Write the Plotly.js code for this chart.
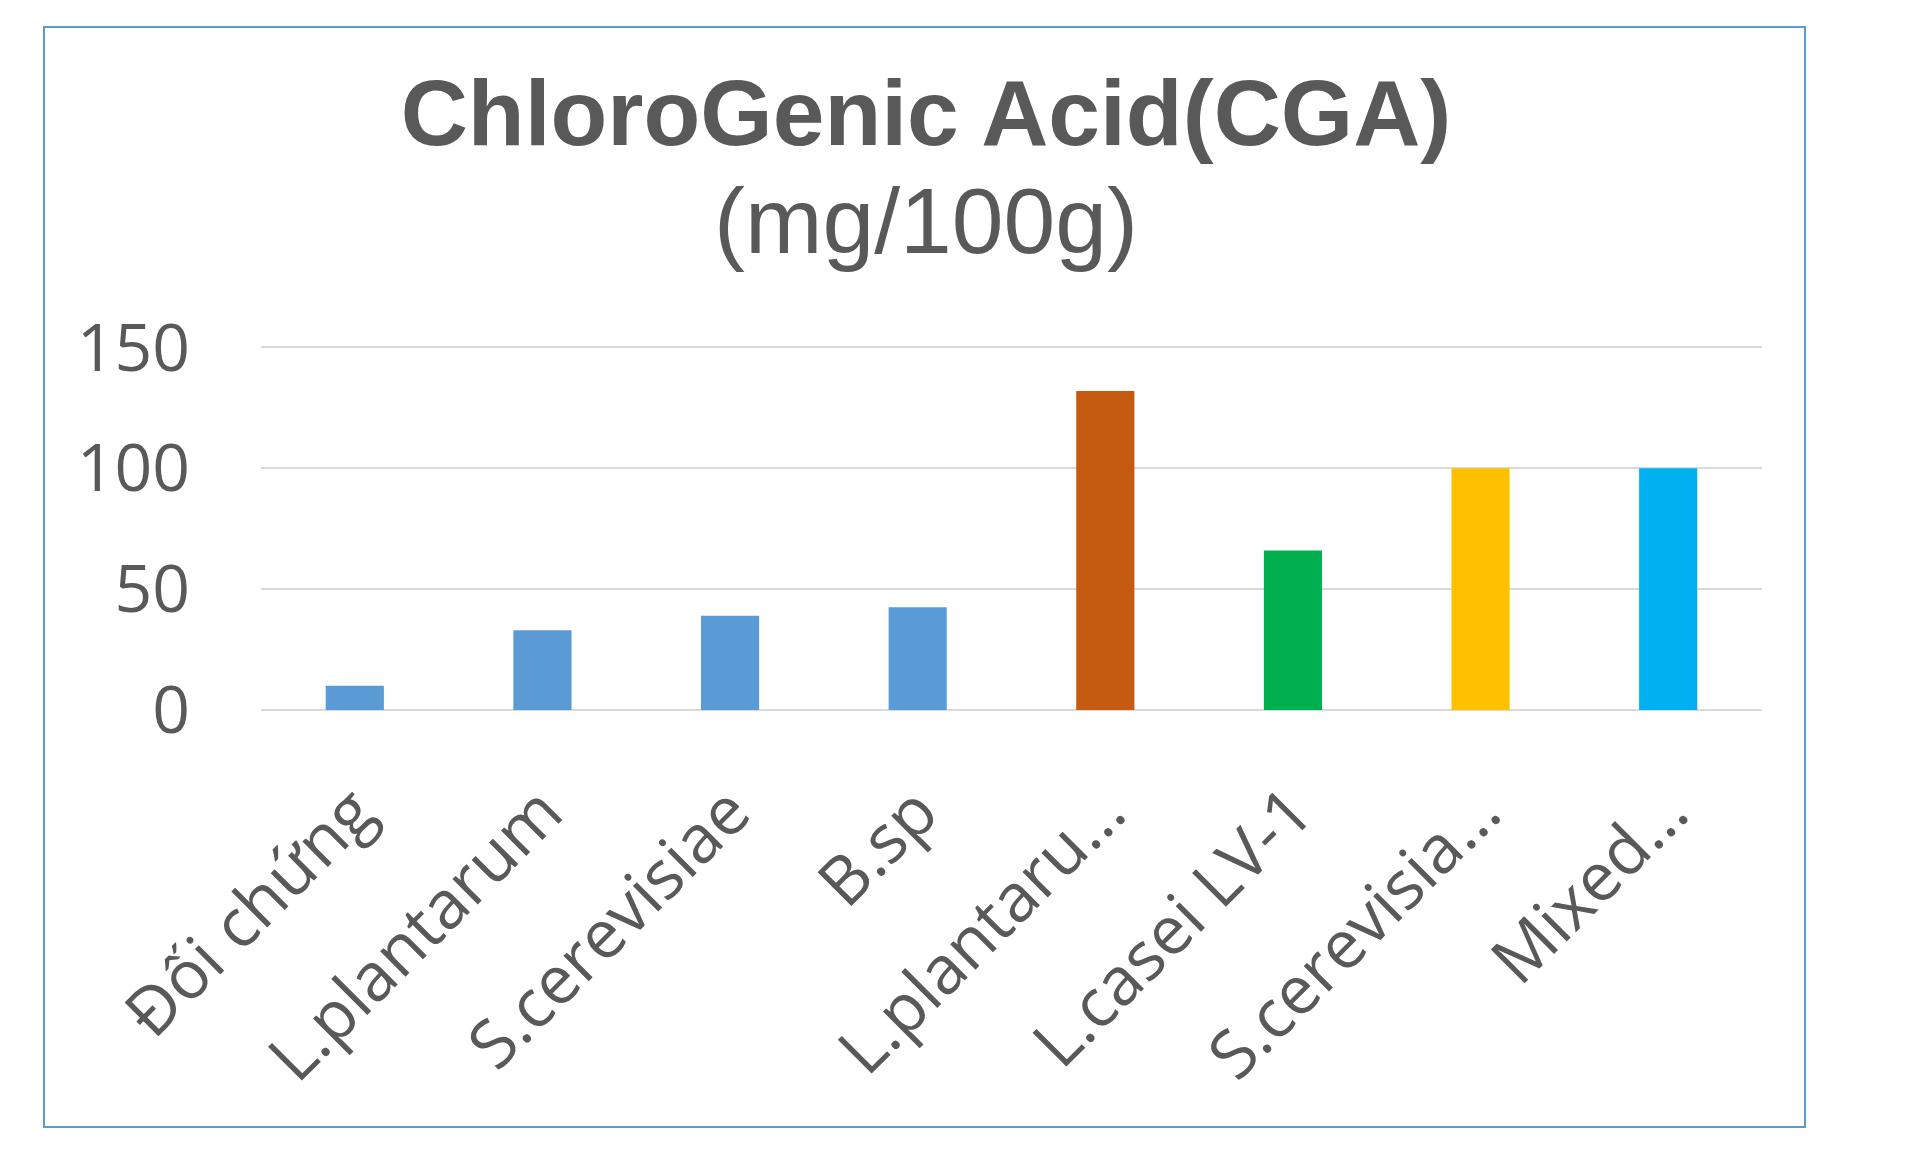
<!DOCTYPE html>
<html>
<head>
<meta charset="utf-8">
<script src="https://cdn.plot.ly/plotly-3.0.1.min.js"></script>
<style>html,body{margin:0;padding:0;background:#fff;}#chart{width:1920px;height:1157px;}</style>
</head>
<body>
<div id="chart"></div>
<script>
const categories = ["Đối chứng", "L.plantarum", "S.cerevisiae", "B.sp", "L.plantaru…", "L.casei LV-1", "S.cerevisia…", "Mixed…"];
const cgaValues = [10, 33, 39, 42.5, 132, 66, 100, 100];
const barColors = ["#5B9BD5", "#5B9BD5", "#5B9BD5", "#5B9BD5", "#C55A11", "#00B050", "#FFC000", "#00B0F0"];
const yTicks = [0, 50, 100, 150];
const titleMain = "ChloroGenic Acid(CGA)";
const titleUnit = "(mg/100g)";

const W = 1920, H = 1157;
const L = 261, R = 1762, T = 345, B = 710;
const pw = R - L, ph = B - T;
const px = x => (x - L) / pw;
const py = y => (B - y) / ph;

const trace = {
  type: "bar",
  x: categories,
  y: cgaValues,
  marker: {color: barColors},
  hoverinfo: "x+y"
};

const layout = {
  width: W, height: H,
  margin: {l: L, r: W - R, t: T, b: H - B, pad: 0},
  paper_bgcolor: "#ffffff",
  plot_bgcolor: "#ffffff",
  showlegend: false,
  bargap: 0.69,
  font: {family: "Open Sans, sans-serif", color: "#595959"},
  title: {
    text: "<b>" + titleMain + "</b>",
    font: {family: "Liberation Sans, Arial, sans-serif", size: 93, color: "#595959"},
    xref: "container", x: 926 / W, xanchor: "center",
    yref: "container", y: 1 - 112 / H, yanchor: "middle"
  },
  annotations: [{
    text: titleUnit,
    font: {family: "Liberation Sans, Arial, sans-serif", size: 93, color: "#595959"},
    xref: "paper", yref: "paper",
    x: px(926), y: py(221), xanchor: "center", yanchor: "middle",
    showarrow: false
  }],
  xaxis: {
    type: "category",
    tickangle: -45,
    tickfont: {family: "Open Sans, sans-serif", size: 67, color: "#595959"},
    ticks: "",
    ticklabelstandoff: 48,
    showline: false,
    showgrid: false,
    zeroline: false,
    fixedrange: true
  },
  yaxis: {
    range: [0, 151],
    tickvals: yTicks,
    ticktext: yTicks.map(String),
    tickfont: {family: "Open Sans, sans-serif", size: 66, color: "#595959"},
    ticks: "",
    ticklabelstandoff: 70,
    showgrid: true,
    gridcolor: "#D9D9D9",
    gridwidth: 2,
    zeroline: true,
    zerolinecolor: "#D9D9D9",
    zerolinewidth: 2,
    showline: false,
    fixedrange: true
  },
  shapes: [{
    type: "rect", xref: "paper", yref: "paper",
    x0: px(44), x1: px(1805), y0: py(1127), y1: py(27),
    line: {color: "#5B9BD5", width: 2},
    fillcolor: "rgba(0,0,0,0)",
    layer: "below"
  }]
};

Plotly.newPlot("chart", [trace], layout, {displayModeBar: false, staticPlot: true});
</script>
</body>
</html>
